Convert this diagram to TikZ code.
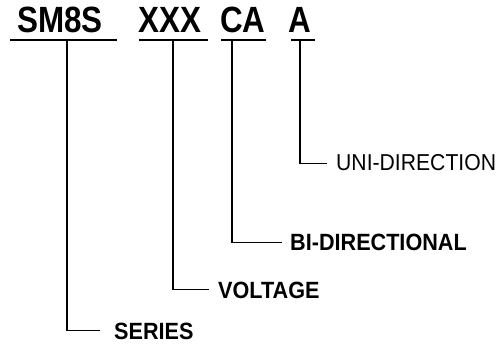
\documentclass[tikz,border=0pt]{standalone}
\usepackage{fontspec}
\setmainfont{Liberation Sans}
\newfontfamily\headfont[FakeStretch=0.86]{Liberation Sans}
\newfontfamily\labfont[FakeStretch=0.92]{Liberation Sans}
\begin{document}
\begin{tikzpicture}[x=1pt,y=-1pt,
  headtxt/.style={inner sep=0pt,anchor=base west,font=\headfont\bfseries\fontsize{36.5}{37}\selectfont},
  labtxt/.style={inner sep=0pt,anchor=base west,font=\labfont\bfseries\fontsize{23.5}{24}\selectfont},
  labreg/.style={inner sep=0pt,anchor=base west,font=\labfont\fontsize{23}{24}\selectfont},
  uline/.style={line width=1.7pt},
  conn/.style={line width=1.1pt}]
\useasboundingbox (0,0) rectangle (497,344);
% header codes
\node[headtxt] (sm8s) at (17,33) {SM8S};
\node[headtxt] (xxx) at (138,33) {XXX};
\node[headtxt] (ca) at (220,33) {CA};
\node[headtxt] (a) at (288,33) {A};
% underlines
\coordinate (u1a) at (10,40);  \coordinate (u1b) at (117,40);
\coordinate (u2a) at (139,40); \coordinate (u2b) at (208,40);
\coordinate (u3a) at (221,40); \coordinate (u3b) at (266,40);
\coordinate (u4a) at (291,40); \coordinate (u4b) at (315,40);
\draw[uline] (u1a) -- (u1b);
\draw[uline] (u2a) -- (u2b);
\draw[uline] (u3a) -- (u3b);
\draw[uline] (u4a) -- (u4b);
% tap points
\coordinate (t1) at (67,40);
\coordinate (t2) at (173,40);
\coordinate (t3) at (232,40);
\coordinate (t4) at (300,40);
% labels
\node[labtxt] (series) at (114,339) {SERIES};
\node[labtxt] (voltage) at (218,298) {VOLTAGE};
\node[labtxt] (bidir) at (290,251) {BI-DIRECTIONAL};
\node[labreg] (unidir) at (336,171) {UNI-DIRECTION};
% connectors
\draw[conn] (t1) |- ([xshift=-14pt]series.west);
\draw[conn] (t2) |- ([xshift=-9pt]voltage.west);
\draw[conn] (t3) |- ([xshift=-8pt]bidir.west);
\draw[conn] (t4) |- ([xshift=-9pt]unidir.west);
\end{tikzpicture}
\end{document}
